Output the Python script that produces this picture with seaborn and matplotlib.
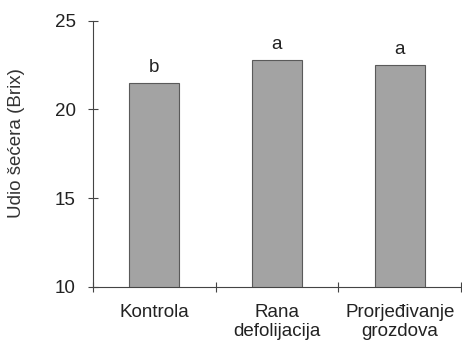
import matplotlib
matplotlib.use("Agg")
import matplotlib.pyplot as plt
import seaborn as sns
import pandas as pd

categories = ["Kontrola", "Rana\ndefolijacija", "Prorjeđivanje\ngrozdova"]
values = [21.5, 22.8, 22.5]
letters = ["b", "a", "a"]
yticks = [10, 15, 20, 25]

sns.set_theme(style="white")
plt.rcParams['font.family'] = ['Liberation Sans', 'DejaVu Sans']

df = pd.DataFrame({"cat": categories, "val": values})

fig = plt.figure(figsize=(4.62, 3.44), dpi=100)
ax = fig.add_axes([0.201, 0.166, 0.797, 0.774])

sns.barplot(data=df, x="cat", y="val", color="#a3a3a3", saturation=1,
            width=0.41, edgecolor="#5a5a5a", linewidth=0.8, ax=ax)

FS = 13.5
for i, (v, l) in enumerate(zip(values, letters)):
    ax.text(i, v + 0.6, l, ha="center", va="baseline", fontsize=FS, color="#222222")

ax.set_ylim(10, 25)
ax.set_xlim(-0.5, 2.5)
ax.set_yticks(yticks)
ax.set_xlabel("")
ax.set_ylabel("Udio šećera (Brix)", fontsize=FS, color="#333333")
ax.yaxis.set_label_coords(-0.185, 0.541)

for s in ["top", "right"]:
    ax.spines[s].set_visible(False)
for s in ["left", "bottom"]:
    ax.spines[s].set_color("#444444")
    ax.spines[s].set_linewidth(0.8)

ax.tick_params(axis="y", direction="inout", length=7, width=0.8, color="#444444",
               labelsize=FS, labelcolor="#222222", pad=9, left=True)
ax.set_xticks([-0.5, 0.5, 1.5, 2.5], minor=True)
ax.tick_params(axis="x", which="minor", direction="inout", length=7, width=0.8,
               color="#444444", bottom=True)
ax.tick_params(axis="x", which="major", length=0, labelsize=FS,
               labelcolor="#222222", pad=12)
for lab in ax.get_xticklabels():
    lab.set_linespacing(1.15)

fig.savefig("out.png", dpi=100)
